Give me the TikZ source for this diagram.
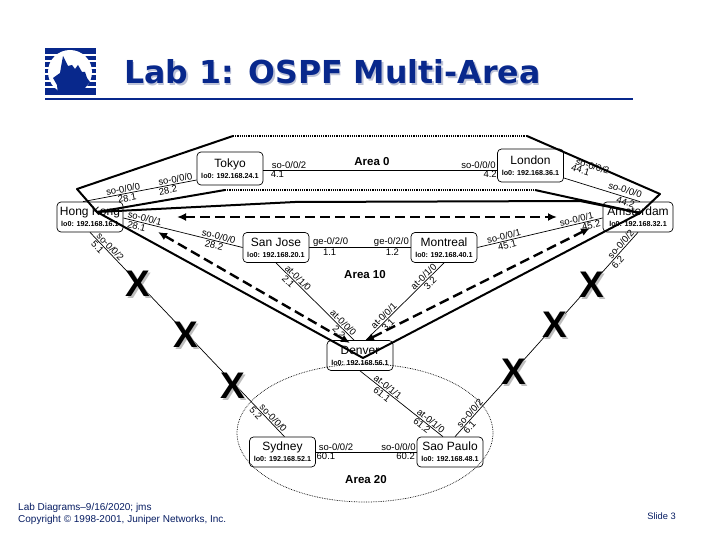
\documentclass[tikz,border=0pt]{standalone}
\usepackage{fontspec}
\setmainfont{Liberation Sans}
\newfontfamily\titlefont{DejaVu Sans}
\usepackage{xcolor}
\definecolor{junnavy}{RGB}{8,40,140}
\definecolor{junshade}{RGB}{190,195,215}
\definecolor{xshade}{RGB}{190,190,190}
\usetikzlibrary{positioning,arrows.meta}
\tikzset{
  router/.style  ={rectangle,rounded corners=4pt,draw=black,line width=.7pt,align=center,
                   minimum width=66pt,minimum height=30pt,inner sep=0pt,font=\fontsize{12}{11}\selectfont},
  link/.style    ={draw=black,line width=.7pt},
  lab/.style     ={font=\fontsize{9.5}{10}\selectfont,inner sep=1pt,sloped},
  arealine/.style={draw=black,line width=2pt,line join=round},
  areadots/.style={draw=black,line width=1.6pt,dash pattern=on 1.2pt off 1pt},
  backbone/.style={{Latex[length=9pt,width=8pt]}-{Latex[length=9pt,width=8pt]},draw=black,
                   line width=2.4pt,dash pattern=on 10pt off 5pt},
  areatext/.style={font=\fontsize{11.5}{12}\selectfont\bfseries},
  cross/.style   ={font=\fontsize{37}{37}\selectfont\bfseries,inner sep=0pt},
}
\newcommand{\loopb}[1]{{\fontsize{7.2}{8}\selectfont\bfseries lo0: 192.168.#1}}
\begin{document}
\begin{tikzpicture}[x=1pt,y=-1pt]
  \useasboundingbox (0,0) rectangle (720,540);
  % logo
  \fill[junnavy] (45,48) rectangle (96,95);
  \foreach \y in {54,60.5,67,73.5,80,86.5}
    \fill[white] (45,\y) rectangle (96,\y+2);
  \fill[white] (70,72) circle (22);
  \fill[junnavy] (63,56) -- (68,66) -- (72,65) -- (75,69) -- (78,65) -- (82,72) -- (85,72) -- (87,78)
    -- (90,82) -- (85,88) -- (83,95) -- (58,95) -- (57,85) -- (53,78) -- (60,73) -- (61,67) -- cycle;
  % title
  \node[anchor=base west,inner sep=0pt,text=junshade,font=\titlefont\fontsize{31.6}{32}\selectfont\bfseries] at (125.5,85.5) {Lab 1: OSPF Multi-Area};
  \node[anchor=base west,inner sep=0pt,text=junnavy,font=\titlefont\fontsize{31.6}{32}\selectfont\bfseries] at (124,84) {Lab 1: OSPF Multi-Area};
  \draw[junnavy,line width=2.5pt] (45,99) -- (633,99);

  % routers
  \node[router,minimum height=33pt] (tokyo) at (230,168.5) {Tokyo\\\loopb{24.1}};
  \node[router,minimum height=33pt] (london) at (530.5,165.5) {London\\\loopb{36.1}};
  \node[router] (hongkong) at (90,217) {Hong Kong\\\loopb{16.1}};
  \node[router,minimum width=70pt] (amsterdam) at (638,217) {Amsterdam\\\loopb{32.1}};
  \node[router] (sanjose) at (276,247.5) {San Jose\\\loopb{20.1}};
  \node[router] (montreal) at (444,247.5) {Montreal\\\loopb{40.1}};
  \node[router] (denver) at (360,355.5) {Denver\\\loopb{56.1}};
  \node[router] (sydney) at (282.5,452) {Sydney\\\loopb{52.1}};
  \node[router] (saopaulo) at (450,452) {Sao Paulo\\\loopb{48.1}};

  % area borders
  \coordinate (atop0) at (233,136);
  \coordinate (atop1) at (527,136);
  \coordinate (aleft) at (77,189);
  \coordinate (atip) at (97,212);
  \coordinate (ain0) at (225,190);
  \coordinate (ain1) at (535,190);
  \coordinate (aright) at (660,194);
  \coordinate (atail) at (640,213);
  \coordinate (abot) at (363,358);
  \draw[arealine] (atop0) -- (aleft) -- (atip) -- (ain0);
  \draw[arealine] (ain1) -- (atail) -- (aright) -- (atop1);
  \draw[areadots] (atop0) -- (atop1);
  \draw[areadots] (ain0) -- (ain1);
  \draw[arealine] (atip) -- (295,202) -- (580,201) -- (atail) -- (abot) -- cycle;
  \draw[densely dotted,line width=.7pt] (365,433) ellipse (128 and 69);

  % links
  \draw[link] ([xshift=-7pt]hongkong.north) -- node[lab,above,pos=.36]{so-0/0/0} node[lab,below,pos=.38]{28.1}
    node[lab,above,pos=.82]{so-0/0/0} node[lab,below,pos=.74]{28.2} ([yshift=-11.5pt]tokyo.west);
  \draw[link] ([yshift=-1pt]hongkong.east) -- node[lab,above,pos=.17]{so-0/0/1} node[lab,below,pos=.12]{28.1}
    node[lab,above,pos=.79]{so-0/0/0} node[lab,below,pos=.77]{28.2} (sanjose.west);
  \draw[link] ([yshift=-1.5pt]tokyo.east) -- node[lab,above,pos=.11]{so-0/0/2} node[lab,below,pos=.06]{4.1}
    node[lab,above,pos=.92]{so-0/0/0} node[lab,below,pos=.97]{4.2} ([yshift=-4.5pt]london.west);
  \draw[link] (sanjose.east) -- node[lab,above,pos=.21]{ge-0/2/0} node[lab,below,pos=.2]{1.1}
    node[lab,above,pos=.81]{ge-0/2/0} node[lab,below,pos=.82]{1.2} (montreal.west);
  \draw[link] ([yshift=-12.5pt]london.east) -- node[lab,above=15pt,pos=.3]{so-0/0/2} node[lab,above=8pt,pos=.17]{44.1}
    node[lab,above=2pt,pos=.78]{so-0/0/0} node[lab,below,pos=.83]{44.2} ([xshift=2pt]amsterdam.north);
  \draw[link] (montreal.east) -- node[lab,above,pos=.22]{so-0/0/1} node[lab,below,pos=.23]{45.1}
    node[lab,above,pos=.8]{so-0/0/1} node[lab,below,pos=.9]{45.2} ([yshift=-1pt]amsterdam.west);
  \draw[link] (sanjose.south) -- node[lab,above,pos=.24]{at-0/1/0} node[lab,below,pos=.2]{2.1}
    node[lab,above,pos=.82]{at-0/0/0} node[lab,below,pos=.85]{2.2} ([xshift=-6pt]denver.north);
  \draw[link] (montreal.south) -- node[lab,above,pos=.22]{at-0/1/0} node[lab,below,pos=.22]{3.2}
    node[lab,above,pos=.73]{at-0/0/1} node[lab,below,pos=.76]{3.1} ([xshift=6pt]denver.north);
  \draw[link] (denver.south) -- node[lab,above,pos=.3]{at-0/1/1} node[lab,below,pos=.3]{61.1}
    node[lab,above,pos=.82]{at-0/1/0} node[lab,below,pos=.78]{61.2} ([xshift=-7pt]saopaulo.north);
  \draw[link] (sydney.east) -- node[lab,above,pos=.2]{so-0/0/2} node[lab,below,pos=.1]{60.1}
    node[lab,above,pos=.82]{so-0/0/0} node[lab,below,pos=.89]{60.2} (saopaulo.west);
  \draw[link] (hongkong.south) -- node[lab,above,pos=.087]{so-0/0/2} node[lab,below,pos=.056]{5.1}
    node[lab,above,pos=.925]{so-0/0/0} node[lab,below,pos=.87]{5.2} ([xshift=2pt]sydney.north);
  \draw[link] (amsterdam.south) -- node[lab,above,pos=.075]{so-0/0/2} node[lab,below,pos=.13]{6.2}
    node[lab,above,pos=.9]{so-0/0/2} node[lab,below,pos=.94]{6.1} ([xshift=5pt]saopaulo.north);

  % routes through the backbone
  \coordinate (hkeast) at (177,217);
  \coordinate (amwest) at (557,217);
  \coordinate (hksouth) at (158,232);
  \coordinate (dnleft) at (350,343);
  \coordinate (amsouth) at (590,228);
  \coordinate (dnright) at (365,341);
  \draw[backbone] (hkeast) -- (amwest);
  \draw[backbone] (hksouth) -- (dnleft);
  \draw[backbone] (amsouth) -- (dnright);

  % severed links
  \foreach \n/\xx/\yy in {xa/138/284,xb/186/335,xc/233/386,xd/592/285,xe/555/325,xf/514/372}{
    \node[cross,text=xshade] at (\xx+2,\yy+2) {X};
    \node[cross] (\n) at (\xx,\yy) {X};
  }

  % areas
  \node[areatext] (area0) at (372,162) {Area 0};
  \node[areatext] (area10) at (365,275) {Area 10};
  \node[areatext] (area20) at (366,480) {Area 20};

  % footer
  \node[anchor=west,align=left,inner sep=0pt,text=junnavy!70!black,font=\fontsize{10}{12}\selectfont] (foot) at (18,514)
    {Lab Diagrams--9/16/2020; jms\\Copyright © 1998-2001, Juniper Networks, Inc.};
  \node[anchor=east,inner sep=0pt,text=junnavy!70!black,font=\fontsize{9.3}{12}\selectfont] (slide) at (676,516) {Slide 3};
\end{tikzpicture}
\end{document}
